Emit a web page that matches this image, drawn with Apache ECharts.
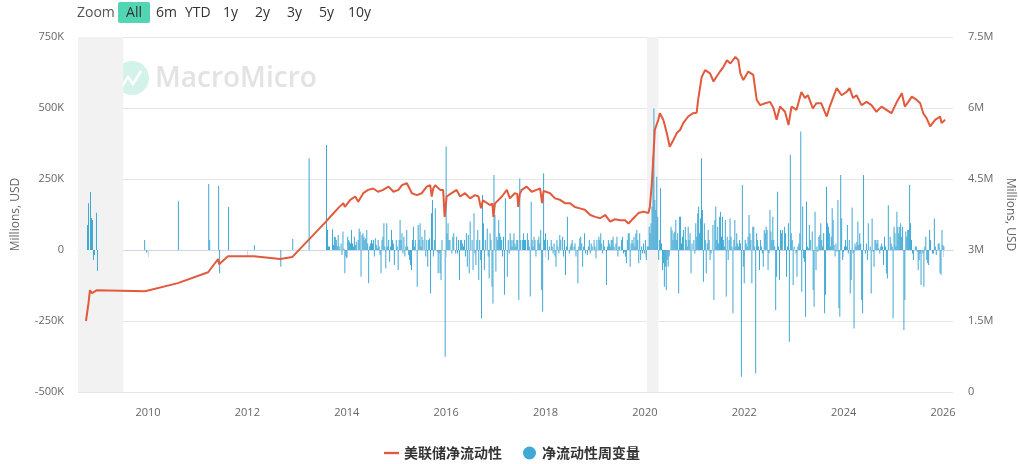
<!DOCTYPE html>
<html><head><meta charset="utf-8">
<script src="https://cdn.jsdelivr.net/npm/echarts@6/dist/echarts.min.js"></script>
<style>html,body{margin:0;padding:0;background:#fff}#c{width:1018px;height:464px}</style>
</head><body><div id="c"></div>
<script>
// ---- DATA (times are fractional years) ----
// Net liquidity line, millions of millions (M)
const lineT = [2008.75,2008.80,2008.83,2008.87,2008.91,2008.97,2009.94,2010.60,2011.21,2011.41,2011.43,2011.61,2012.13,2012.66,2012.90,2013.58,
2013.70,2013.83,2013.93,2013.96,2014.07,2014.17,2014.23,2014.33,2014.43,2014.53,2014.63,2014.73,2014.84,2014.94,2015.04,2015.11,2015.21,2015.31,2015.41,2015.51,2015.61,2015.68,2015.71,2015.74,2015.78,2015.81,2015.88,2015.94,2015.97,2016.01,2016.11,2016.21,2016.28,2016.38,2016.48,2016.58,2016.65,2016.70,2016.74,2016.78,2016.88,2016.93,2016.95,2016.98,2017.02,2017.12,2017.22,2017.28,2017.38,2017.43,2017.45,2017.48,2017.52,2017.62,2017.72,2017.82,2017.89,2017.93,2017.96,2017.99,2018.09,2018.19,2018.29,2018.39,2018.49,2018.59,2018.69,2018.79,2018.90,2019.00,2019.10,2019.20,2019.30,2019.40,2019.50,2019.60,2019.67,2019.77,2019.87,2019.97,2020.07,2020.10,2020.14,2020.17,2020.20,2020.27,2020.30,2020.37,2020.44,2020.50,2020.57,2020.64,2020.71,2020.77,2020.87,2020.97,2021.04,2021.07,2021.14,2021.21,2021.31,2021.38,2021.44,2021.51,2021.58,2021.65,2021.72,2021.82,2021.88,2021.92,2021.98,2022.08,2022.18,2022.25,2022.32,2022.42,2022.52,2022.59,2022.65,2022.72,2022.82,2022.89,2022.95,2023.05,2023.15,2023.22,2023.28,2023.38,2023.45,2023.55,2023.66,2023.72,2023.86,2023.96,2024.06,2024.12,2024.19,2024.26,2024.36,2024.46,2024.56,2024.66,2024.76,2024.86,2024.96,2025.07,2025.17,2025.23,2025.30,2025.37,2025.47,2025.54,2025.60,2025.67,2025.74,2025.84,2025.94,2025.97,2026.04];
const lineV = [1.50,1.87,2.15,2.09,2.12,2.15,2.13,2.30,2.53,2.81,2.70,2.87,2.87,2.81,2.85,3.60,
3.74,3.89,3.99,3.91,4.06,4.13,4.02,4.20,4.27,4.30,4.23,4.27,4.34,4.23,4.27,4.37,4.41,4.20,4.16,4.20,4.34,4.37,4.13,4.30,4.37,4.41,4.27,4.27,3.70,4.13,4.20,4.27,4.13,4.20,4.09,4.16,4.13,3.88,4.05,4.02,3.95,3.98,3.70,3.98,4.02,4.13,4.27,4.09,4.20,4.18,3.91,4.18,4.27,4.34,4.23,4.27,4.30,3.99,4.25,4.27,4.20,4.09,4.06,3.99,3.99,3.91,3.88,3.85,3.74,3.70,3.67,3.74,3.60,3.65,3.63,3.63,3.56,3.67,3.78,3.81,3.78,3.91,4.41,4.97,5.54,5.75,5.89,5.75,5.47,5.18,5.32,5.47,5.54,5.68,5.82,5.89,5.90,6.17,6.65,6.80,6.73,6.56,6.66,6.77,6.87,7.01,6.94,7.08,7.01,6.73,6.59,6.77,6.70,6.17,6.06,6.10,6.13,5.99,5.75,6.03,5.92,5.64,6.03,5.96,6.34,6.21,6.27,5.99,6.10,6.10,5.82,6.03,6.42,6.27,6.34,6.42,6.21,6.27,6.06,6.13,6.06,5.92,6.03,5.96,5.89,6.13,6.31,6.03,6.13,6.24,6.17,6.10,5.89,5.78,5.61,5.75,5.82,5.68,5.75];

// Weekly change bars, thousands of millions (K)
const sparseT = [2008.77,2008.79,2008.83,2008.85,2008.87,2008.89,2008.91,2008.95,2008.97,2009.92,2009.96,2010.60,2011.21,2011.23,2011.41,2011.43,2011.61,2012.13,2012.66,2012.90,2013.23,2013.58,2013.60,2013.62,2013.64];
const sparseV = [88,165,204,113,106,-35,-18,131,-73,35,-10,172,232,35,225,-82,151,17,-59,39,323,370,70,12,12];

const weekStarts = [2013.70,2015.97,2016.30,2016.70,2016.95,2017.45,2017.93,2019.52,2020.17,2021.93,2022.80,2023.93,2025.20];
const wkA = [73,18,47,45,35,14,53,12,0,23,-18,65,5,-82,-23,-29,47,35,29,23,70,23,12,47,18,29,0,35,76,65,-94,53,59,47,35,41,70,23,-117,12,23,35,23,35,-23,41,18,6,35,12,-18,-82,35,47,94,12,-65,94,12,35,-41,12,70,35,23,-53,0,35,12,-70,35,106,35,59,-12,47,-23,12,70,12,-18,-35,-53,-70,35,82,12,35,0,-129,88,35,94,12,47,35,0,70,-23,35,-59,35,41,-153,129,176,-23,35,147,0,-6,-82,-12,-82,-106,35,0];
const wkB = [-376,364,59,94,35,35,0,-12,47,59,0,-12,47,-12,35,-106,35];
const wkC = [35,23,12,35,-23,59,-59,53,-82,100,0,35,-70,129,-12,-53,35,70,-106,35,-35];
const wkD = [-240,194,94,-70,35,0,76,-23,-100,59,35,-129,-188];
const wkE = [264,123,-76,47,35,106,59,47,35,-23,47,-158,182,0,-94,35,-12,59,35,12,35,59,23,12,35,35];
const wkF = [-176,252,35,0,35,59,35,35,0,59,35,12,-164,170,35,12,47,35,-23,0,35,47,23,70,-141];
const wkG = [-217,270,35,59,0,35,-35,12,0,35,12,-12,23,-23,-59,35,12,-12,53,35,0,47,-23,35,-88,12,117,0,-12,12,23,35,0,12,23,-23,0,-117,12,41,47,23,-59,12,59,-12,0,-18,12,35,-12,23,12,0,35,12,-29,35,0,47,35,59,23,-12,35,12,0,-123,12,35,23,12,35,35,47,12,0,23,47,-23,12,12];
const wkH = [35,47,-12,-6,-23,-47,35,59,59,-59,23,35,23,47,12,59,70,35,-47,59,-35,12,-12,23,-12,35,-35,12,12,82,59,94,153,329];
const wkI = [499,176,141,258,117,-35,35,217,23,-70,-47,-129,-59,-141,-35,-59,-23,0,82,70,35,59,65,106,35,59,-153,117,117,23,47,70,0,82,35,12,82,35,59,-82,23,0,35,-12,94,47,129,153,59,111,323,141,-112,94,35,-82,23,70,35,-35,-12,0,88,-176,106,153,35,82,23,117,135,47,117,35,12,106,-164,47,-35,35,111,47,12,-223,35,106,12,59,23,12,35,23];
const wkJ = [-446,229,-59,-117,35,23,12,47,123,59,35,-117,82,82,12,-434,59,35,12,-70,35,12,-12,-59,70,59,82,70,-70,-12,141,65,35,117,35,12,-211,-94,205,12,-106,70,59,70];
const wkK = [82,59,-94,12,94,-323,335,59,35,-123,12,0,-12,-94,12,23,59,417,-147,153,-29,-41,-235,170,12,6,88,35,0,65,-141,-200,135,-70,12,-6,47,53,94,35,12,59,-223,-158,223,94,82,59,12,47,147,106,18,-23,23,-6,176,-205,-235];
const wkL = [264,111,-35,-6,12,35,12,88,-12,35,-153,-106,150,-12,-276,23,12,29,100,18,59,23,-176,-223,264,0,-12,23,-35,94,0,12,-153,111,-6,-59,35,35,23,35,6,-12,12,23,12,-53,47,12,-82,-100,158,0,47,23,12,-240,82,59,12,135,82,59,82,94,47,82];
const wkM = [-282,-176,65,47,70,70,229,94,35,-12,-35,0,12,12,-6,-70,-35,-12,-123,0,-12,-129,12,47,-35,-47,-53,70,35,0,-12,-12,111,12,-18,0,23,23,-82,-88,70,18,12];
const weekSegments = [wkA,wkB,wkC,wkD,wkE,wkF,wkG,wkH,wkI,wkJ,wkK,wkL,wkM];

const recessions = [[2008.59, 2009.50], [2020.04, 2020.27]];
const xLabelYears = [2010,2012,2014,2016,2018,2020,2022,2024,2026];
const xRange = [2008.59, 2026.20];

// ---- helpers ----
function ts(y){const Y=Math.floor(y);const a=Date.UTC(Y,0,1),b=Date.UTC(Y+1,0,1);return a+(y-Y)*(b-a);}
const WEEK = 7*86400000;

const lineData = lineT.map((t,i)=>[ts(t), lineV[i]*1e6]);
const barData = sparseT.map((t,i)=>[ts(t), sparseV[i]*1000]);
weekSegments.forEach((seg,k)=>{const s=ts(weekStarts[k]);seg.forEach((v,i)=>barData.push([s+i*WEEK, v*1000]));});

const FONT = '"Open Sans","Noto Sans",sans-serif';
const chart = echarts.init(document.getElementById('c'), null, {renderer:'canvas'});

const btns = [['6m',156],['YTD',185],['1y',223],['2y',255],['3y',287],['5y',319],['10y',348]];
const graphics = [
  {type:'text', x:77, y:13, z:10, style:{text:'Zoom', fill:'#555', font:'14px '+FONT, textVerticalAlign:'middle'}},
  {type:'rect', shape:{x:118,y:2,width:32,height:21,r:2}, z:10, style:{fill:'#52d5b3'}},
  {type:'text', x:134, y:13, z:11, style:{text:'All', fill:'#333', font:'14px '+FONT, textAlign:'center', textVerticalAlign:'middle'}},
  {type:'circle', shape:{cx:132,cy:78,r:17}, z:-1, style:{fill:'#d3f2ea'}},
  {type:'polyline', shape:{points:[[121,88],[128,77],[133,84],[141,71]]}, z:-1, style:{stroke:'#fff', lineWidth:2.5, fill:null}},
  {type:'text', x:155, y:79, z:-1, style:{text:'MacroMicro', fill:'#e3e3e3', font:'600 28px '+FONT, textVerticalAlign:'middle'}}
];
btns.forEach(b=>graphics.push({type:'text', x:b[1], y:13, z:10, style:{text:b[0], fill:'#333', font:'14px '+FONT, textVerticalAlign:'middle'}}));

const tickVals = xLabelYears.map(y=>ts(y));
const option = {
  animation:false,
  backgroundColor:'#fff',
  grid:{left:78, right:65, top:37, bottom:72, containLabel:false, outerBoundsMode:'none'},
  graphic:graphics,
  legend:{
    top:441, left:379, itemGap:21, itemWidth:15, itemHeight:13,
    textStyle:{fontSize:14, color:'#333', fontWeight:'bold', fontFamily:'"Noto Sans CJK SC",sans-serif'},
    data:[{name:'美联储净流动性', icon:'path://M0,0L14,0L14,2.2L0,2.2Z', itemStyle:{color:'#e25a3c'}},
          {name:'净流动性周变量', icon:'circle'}]
  },
  xAxis:{
    type:'value', min:ts(xRange[0]), max:ts(xRange[1]),
    axisLine:{lineStyle:{color:'#ccd6eb'}},
    axisTick:{show:true, length:7, lineStyle:{color:'#ccd6eb'}, customValues:tickVals},
    axisLabel:{color:'#666', fontSize:11, fontFamily:FONT, margin:15, customValues:tickVals,
      formatter:v=>String(new Date(v+86400000).getUTCFullYear())},
    splitLine:{show:false}
  },
  yAxis:[
    {type:'value', min:-500000, max:750000, interval:250000, position:'left',
     name:'Millions, USD', nameLocation:'middle', nameGap:56, nameRotate:90,
     nameTextStyle:{color:'#666', fontSize:12, fontFamily:FONT},
     axisLine:{show:false}, axisTick:{show:false},
     axisLabel:{color:'#666', fontSize:11, fontFamily:FONT, margin:14, formatter:v=>v===0?'0':(v/1000)+'K'},
     splitLine:{lineStyle:{color:'#e6e6e6'}}},
    {type:'value', min:0, max:7500000, interval:1500000, position:'right',
     name:'Millions, USD', nameLocation:'middle', nameGap:50, nameRotate:-90,
     nameTextStyle:{color:'#666', fontSize:12, fontFamily:FONT},
     axisLine:{show:false}, axisTick:{show:false},
     axisLabel:{color:'#666', fontSize:11, fontFamily:FONT, margin:15, formatter:v=>v===0?'0':(v/1e6)+'M'},
     splitLine:{show:false}}
  ],
  series:[
    {name:'recession', type:'bar', data:[], z:-1, silent:true, yAxisIndex:0,
     markArea:{silent:true, itemStyle:{color:'#f2f2f2'},
       data:recessions.map(r=>[{xAxis:ts(r[0])},{xAxis:ts(r[1])}])}},
    {name:'净流动性周变量', type:'bar', yAxisIndex:0, data:barData, barWidth:1, z:2,
     itemStyle:{color:'#3fa8d4'}},
    {name:'美联储净流动性', type:'line', yAxisIndex:1, data:lineData, z:3,
     symbol:'none', showSymbol:false, lineStyle:{color:'#e25a3c', width:2}, itemStyle:{color:'#e25a3c'}}
  ]
};
chart.setOption(option);
</script></body></html>
